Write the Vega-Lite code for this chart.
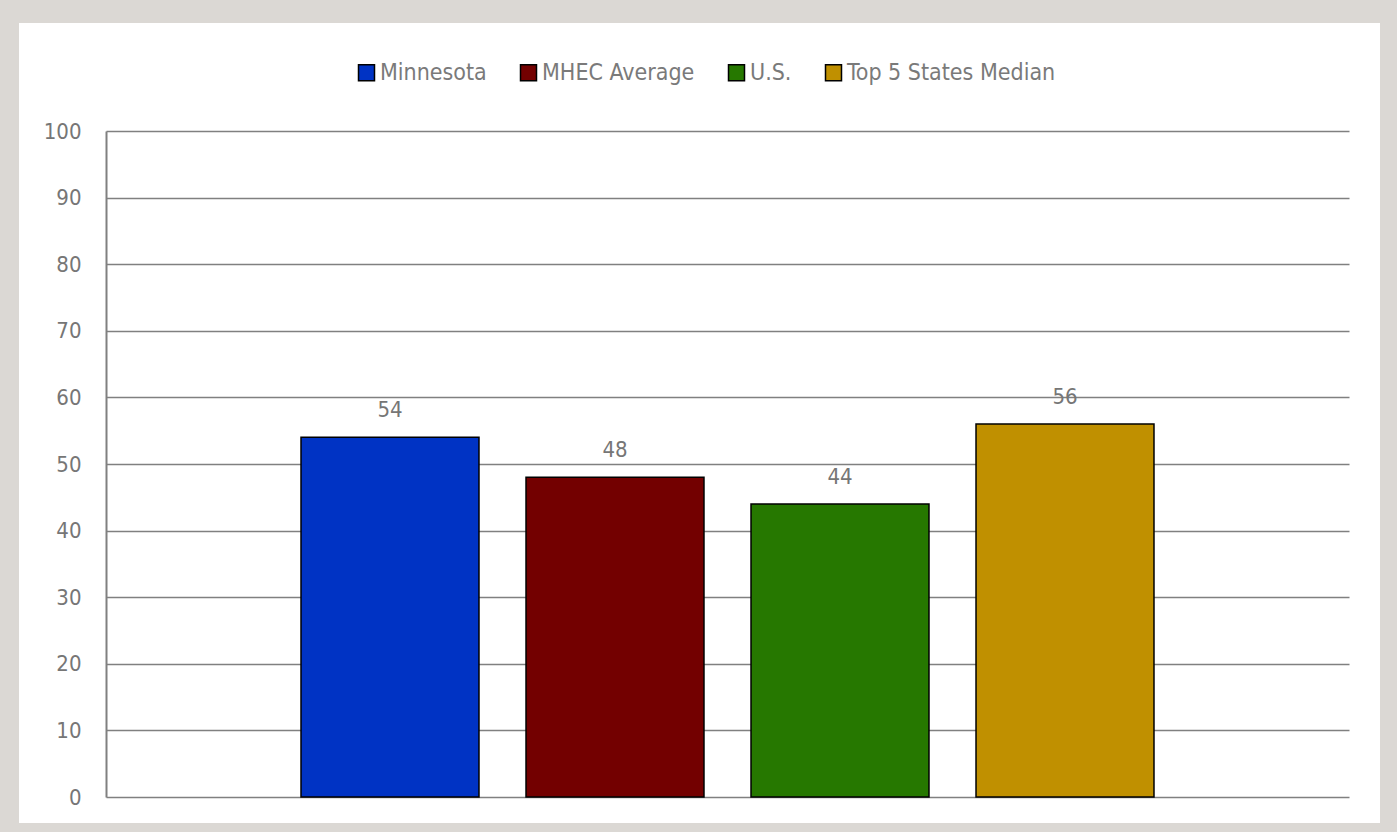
{
  "$schema": "https://vega.github.io/schema/vega-lite/v6.json",
  "width": 1361,
  "height": 800,
  "autosize": "none",
  "padding": {"left": 19, "top": 23, "right": 17, "bottom": 9},
  "background": "#dbd8d4",
  "config": {
    "view": {"fill": "white", "stroke": null},
    "font": "DejaVu Sans Condensed"
  },
  "data": {
    "values": [
      {"group": "Minnesota", "value": 54},
      {"group": "MHEC Average", "value": 48},
      {"group": "U.S.", "value": 44},
      {"group": "Top 5 States Median", "value": 56}
    ]
  },
  "encoding": {
    "x": {
      "field": "group",
      "type": "nominal",
      "sort": null,
      "axis": null,
      "scale": {"range": [87, 1330], "paddingInner": 0.209, "paddingOuter": 0.8667}
    },
    "y": {
      "field": "value",
      "type": "quantitative",
      "scale": {"domain": [0, 100], "range": [774, 108], "nice": false, "zero": true},
      "axis": {
        "values": [0, 10, 20, 30, 40, 50, 60, 70, 80, 90, 100],
        "offset": -87,
        "title": null,
        "domain": true,
        "domainColor": "#808080",
        "domainWidth": 2,
        "ticks": false,
        "grid": true,
        "gridColor": "#808080",
        "gridWidth": 1.6,
        "labelFontSize": 22,
        "labelColor": "#767676",
        "labelPadding": 25,
        "labelFont": "DejaVu Sans Condensed"
      }
    }
  },
  "layer": [
    {
      "mark": {"type": "bar", "stroke": "black", "strokeWidth": 1.5},
      "encoding": {
        "color": {
          "field": "group",
          "type": "nominal",
          "sort": null,
          "scale": {
            "domain": ["Minnesota", "MHEC Average", "U.S.", "Top 5 States Median"],
            "range": ["#0033c4", "#730000", "#267800", "#c09000"]
          },
          "legend": {
            "orient": "none",
            "direction": "horizontal",
            "legendX": 336,
            "legendY": 38,
            "title": null,
            "symbolType": "square",
            "symbolSize": 256,
            "symbolStrokeColor": "black",
            "symbolStrokeWidth": 1.5,
            "symbolOpacity": 1,
            "labelFontSize": 23,
            "labelColor": "#7a7a7a",
            "labelFont": "DejaVu Sans Condensed",
            "labelLimit": 0,
            "columnPadding": 30,
            "labelOffset": 2,
            "padding": 0
          }
        }
      }
    },
    {
      "mark": {"type": "text", "dy": -20, "baseline": "alphabetic", "fontSize": 22, "color": "#767676", "font": "DejaVu Sans Condensed"},
      "encoding": {"text": {"field": "value", "type": "quantitative"}}
    }
  ]
}
